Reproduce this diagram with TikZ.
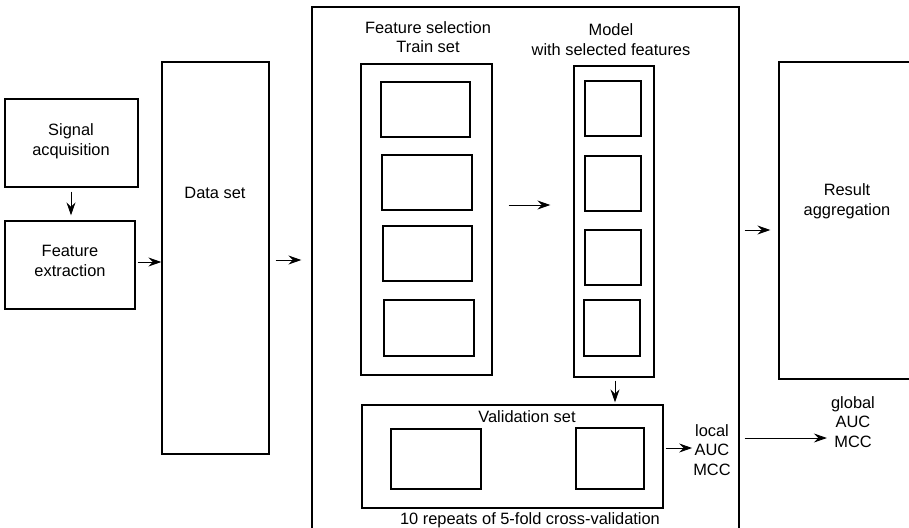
\documentclass[tikz,border=0pt]{standalone}
\usepackage{fontspec}
\setmainfont{Liberation Sans}
\usetikzlibrary{arrows.meta}
\begin{document}
\begin{tikzpicture}[x=1pt,y=-1pt,
  lbl/.style={inner sep=0pt, align=center, font=\fontsize{16.4}{19.5}\selectfont},
  arr/.style={line width=0.9pt, -{Stealth[length=13pt,width=9pt,inset=4.5pt]}}]
\useasboundingbox (0,0) rectangle (909,527);
\clip (0,0) rectangle (909,527);
% helper: box from corners
\newcommand{\rbox}[5]{\node[draw, line width=1.3pt, inner sep=0pt, minimum width=#4-#2, minimum height=#5-#3] (#1) at ({(#2+#4)/2},{(#3+#5)/2}) {};}
\rbox{sig}{5}{99}{138}{187}
\rbox{fe}{5}{221}{135}{309}
\rbox{ds}{162}{62}{269}{454}
\rbox{big}{312}{7}{739}{545}
\rbox{train}{361}{64}{492}{375}
\rbox{t1}{381}{82}{470}{137}
\rbox{t2}{382}{155}{472}{210}
\rbox{t3}{383}{226}{472}{281}
\rbox{t4}{384}{300}{474}{356}
\rbox{model}{574}{66}{654}{377}
\rbox{m1}{585}{81}{641}{136}
\rbox{m2}{585}{156}{641}{211}
\rbox{m3}{585}{230}{641}{285}
\rbox{m4}{584}{300}{640}{356}
\rbox{val}{362}{405}{663}{508}
\rbox{v1}{391}{429}{481}{489}
\rbox{v2}{576}{428}{644}{489}
\rbox{res}{779}{62}{935}{379}
% texts
\node[lbl] (tsig) at (71,141.5) {Signal\\acquisition};
\node[lbl] (tfe) at (70,261) {Feature\\extraction};
\node[lbl] (tds) at (215,193) {Data set};
\node[lbl] (tfs) at (428,37) {Feature selection\\Train set};
\node[lbl] (tmod) at (611,39.5) {Model\\with selected features};
\node[lbl] (tval) at (527,417) {Validation set};
\node[lbl] (tloc) at (712,450) {local\\AUC\\MCC};
\node[lbl] (tglob) at (853,422) {global\\AUC\\MCC};
\node[lbl] (trep) at (530,520) {10 repeats of 5-fold cross-validation};
\node[lbl] (tres) at (847,201.5) {Result\\aggregation};
% connectors
\coordinate (y1) at (0,262);
\coordinate (y2) at (0,260);
\coordinate (y3) at (0,205);
\coordinate (y4) at (0,230);
\coordinate (y5) at (0,448);
\coordinate (y6) at (0,438);
\coordinate (x1) at (71,0);
\coordinate (x2) at (615,0);
\draw[arr, shorten <=4pt, shorten >=5pt] (sig.south -| x1) -- (fe.north -| x1);
\draw[arr, shorten <=2pt] (fe.east |- y1) -- (ds.west |- y1);
\draw[arr, shorten <=6pt, shorten >=10pt] (ds.east |- y2) -- (big.west |- y2);
\draw[arr, shorten <=16pt, shorten >=23pt] (train.east |- y3) -- (model.west |- y3);
\draw[arr, shorten <=3pt, shorten >=2pt] (model.south -| x2) -- (val.north -| x2);
\draw[arr, shorten <=2pt, shorten >=1pt] (val.east |- y5) -- (tloc.west |- y5);
\draw[arr, shorten <=5pt, shorten >=8pt] (big.east |- y4) -- (res.west |- y4);
\draw[arr, shorten <=5pt, shorten >=4pt] (big.east |- y6) -- (tglob.west |- y6);
\end{tikzpicture}
\end{document}
